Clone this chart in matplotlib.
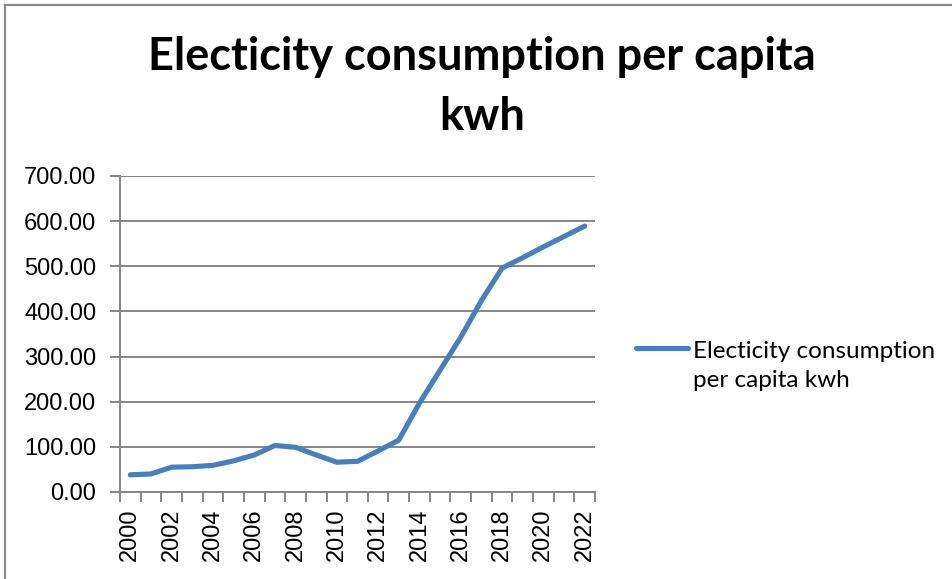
import numpy as np
import matplotlib.pyplot as plt
from matplotlib.lines import Line2D
from matplotlib.legend_handler import HandlerLine2D
from matplotlib.ticker import FixedLocator, FuncFormatter

# Per-capita electricity consumption (kWh), 2000-2022
years = list(range(2000, 2023))
consumption = [38, 40, 55, 56, 59, 69, 82, 103, 99, 82, 66, 68, 91, 115,
               197, 270, 343, 424, 496, 519, 543, 566, 589]
series_name = "Electicity consumption\nper capita kwh"
chart_title = "Electicity consumption per capita\nkwh"

grid_grey = "#868686"
line_blue = "#4a7ebb"


class FirstLineHandler(HandlerLine2D):
    # keep the legend line level with the first line of a wrapped label
    def create_artists(self, legend, orig_handle, xdescent, ydescent,
                       width, height, fontsize, trans):
        artists = super().create_artists(legend, orig_handle, xdescent, ydescent,
                                         width, height, fontsize, trans)
        for a in artists:
            a.set_ydata(np.asarray(a.get_ydata()) + 0.72 * fontsize)
        return artists


fig = plt.figure(figsize=(9.53, 5.79), dpi=100)
ax = fig.add_axes([120 / 953, 87 / 579, 475 / 953, 316 / 579])

x = list(range(len(years)))
ax.plot(x, consumption, color=line_blue, linewidth=3.7,
        solid_joinstyle="round", solid_capstyle="round", label=series_name)

ax.set_ylim(0, 700)
ax.set_xlim(-0.5, len(years) - 0.5)
ax.set_yticks(range(0, 701, 100))
ax.yaxis.set_major_formatter(FuncFormatter(lambda v, p: f"{v:.2f}"))
ax.grid(axis="y", color=grid_grey, linewidth=1.4)
ax.set_axisbelow(True)

# Category axis: tick marks between categories, label every second year
ax.xaxis.set_major_locator(FixedLocator(x[::2]))
ax.set_xticklabels([str(y) for y in years[::2]], rotation=90)
ax.xaxis.set_minor_locator(FixedLocator([i - 0.5 for i in range(len(years) + 1)]))
ax.tick_params(axis="x", which="major", length=0, pad=12,
               labelsize=17, labelfontfamily="Liberation Sans")
ax.tick_params(axis="x", which="minor", length=7, width=1.4, color=grid_grey)
ax.tick_params(axis="y", length=7, width=1.4, color=grid_grey, pad=10,
               labelsize=17, labelfontfamily="Liberation Sans")

for side in ("top", "right"):
    ax.spines[side].set_visible(False)
for side in ("left", "bottom"):
    ax.spines[side].set_color(grid_grey)
    ax.spines[side].set_linewidth(1.4)

fig.text(0.506, 1 - 87 / 579, chart_title, ha="center", va="center",
         fontsize=32.5, fontweight="bold", fontfamily="Lato",
         linespacing=1.5)

leg = ax.legend(loc="center left", bbox_to_anchor=(636 / 953, 1 - 366 / 579),
                bbox_transform=fig.transFigure, frameon=False,
                prop={"family": "Lato", "size": 17.5}, handlelength=2.15,
                handletextpad=0.2, borderpad=0, borderaxespad=0,
                handler_map={Line2D: FirstLineHandler()})
for t in leg.get_texts():
    t.set_linespacing(1.45)

# Chart frame (top and left edges)
fig.add_artist(Line2D([5 / 953, 1], [1 - 5 / 579, 1 - 5 / 579],
                      color="#898989", linewidth=1.6, transform=fig.transFigure))
fig.add_artist(Line2D([5 / 953, 5 / 953], [0, 1 - 5 / 579],
                      color="#898989", linewidth=1.6, transform=fig.transFigure))

fig.savefig("out.png", dpi=100)
